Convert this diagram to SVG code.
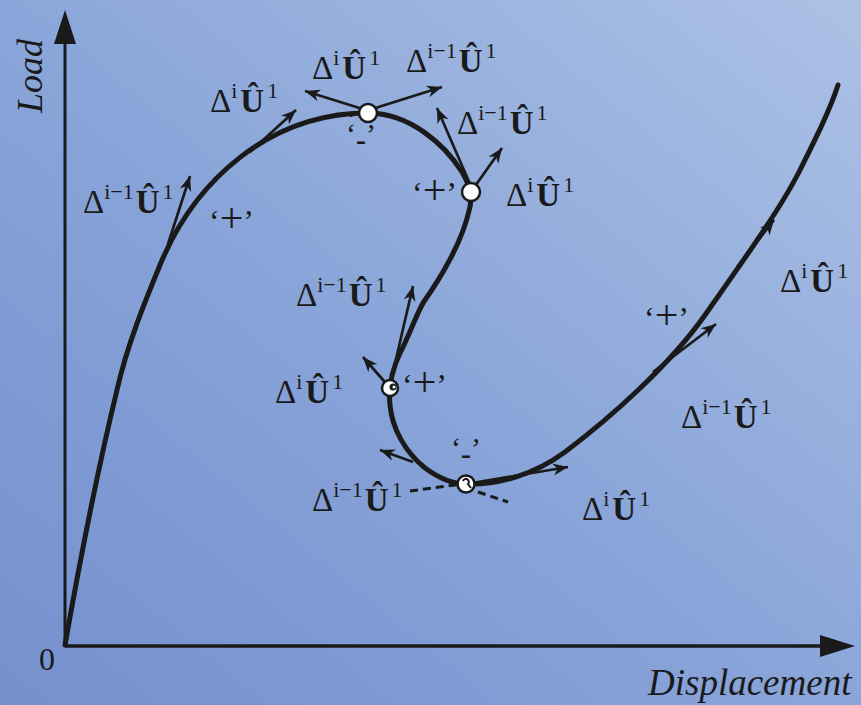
<svg xmlns="http://www.w3.org/2000/svg" width="861" height="705" viewBox="0 0 861 705">
<defs>
<linearGradient id="bg" x1="0" y1="1" x2="1" y2="0">
<stop offset="0" stop-color="#7590cd"/>
<stop offset="0.45" stop-color="#87a3d8"/>
<stop offset="1" stop-color="#acc1e5"/>
</linearGradient>
<marker id="ah" viewBox="-16 -7 18 14" markerWidth="18" markerHeight="14" refX="0" refY="0" orient="auto" markerUnits="userSpaceOnUse">
<path d="M0,0 L-15,-6 L-10.5,0 L-15,6 Z" fill="#1a1a1a"/>
</marker>
</defs>
<style>
.lbl{font-family:"Liberation Serif","Times New Roman",serif;font-size:33px;fill:#1a1a1a}
.sup{font-size:22px}
.b{font-weight:bold}
.sg{font-family:"Liberation Serif","Times New Roman",serif;font-size:32px;fill:#1a1a1a}
.pl{font-size:42px}
.ax{font-family:"Liberation Serif","Times New Roman",serif;font-style:italic;fill:#1a1a1a}
.arr{fill:none;stroke:#1a1a1a;stroke-width:2.7;marker-end:url(#ah)}
.dash{fill:none;stroke:#1a1a1a;stroke-width:3;stroke-dasharray:8 5}
.pt{fill:#fff;stroke:#1a1a1a;stroke-width:2.5}
</style>
<rect width="861" height="705" fill="url(#bg)"/>

<g id="axes">
<line x1="65" y1="645" x2="65" y2="40" stroke="#1a1a1a" stroke-width="3"/>
<polygon points="65,10 54,44 76,44" fill="#1a1a1a"/>
<line x1="65" y1="646" x2="824" y2="646" stroke="#1a1a1a" stroke-width="3.5"/>
<polygon points="855,646 820,635 820,657" fill="#1a1a1a"/>
<text class="ax" style="font-size:36px" transform="translate(42,113) rotate(-90)">Load</text>
<text class="lbl" x="39" y="670" style="font-size:32px">0</text>
<text class="ax" style="font-size:37px" x="648" y="695">Displacement</text>
</g>

<g id="connectors">
<path d="M65,645 C80,560 100,460 117,390 C127,345 146,299 160,265 C195,180 270,113 368,113 C410,113 445,145 462,172 C470,185 472,195 470,207 C466,225 458,245 448,263 C440,278 432,290 423,303 C415,318 408,338 400,353 C393,368 388,385 390,405 C392,428 405,452 425,468 C440,479 452,484 466,484 C500,485 535,474 565,452 C610,418 670,365 705,315 C740,265 780,210 800,170 C815,140 830,110 838,85" fill="none" stroke="#1a1a1a" stroke-width="5" stroke-linecap="round" stroke-linejoin="round"/>
<path class="arr" d="M168,244 L190,176"/>
<path class="arr" d="M250,152 L296,110"/>
<path class="arr" d="M385,116 L305,91"/>
<path class="arr" d="M350,116 L442,87"/>
<path class="arr" d="M470,184 L437,108"/>
<path class="arr" d="M473,189 L502,148"/>
<path class="arr" d="M390,385 L413,286"/>
<path class="arr" d="M390,388 L363,357"/>
<path class="arr" d="M413,462 L380,450"/>
<path class="arr" d="M472,483 L568,467"/>
<path class="arr" d="M737,267 L774,220"/>
<path class="arr" d="M653,372 L716,324"/>
<path class="dash" d="M410,491 L462,484"/>
<path class="dash" d="M478,492 L508,502"/>
</g>

<g id="node-peak"><circle class="pt" cx="368" cy="113" r="9"/></g>
<g id="node-turn1"><circle class="pt" cx="471" cy="192" r="9"/></g>
<g id="node-turn2"><circle class="pt" cx="390" cy="388" r="8"/><circle cx="393" cy="387" r="3.5" fill="#1a1a1a"/><circle cx="394" cy="387" r="1.5" fill="#fff"/></g>
<g id="node-valley"><circle class="pt" cx="466" cy="484" r="8.5"/><path d="M463,481 A3,3 0 1 1 468,484 L471,488" fill="none" stroke="#1a1a1a" stroke-width="2"/></g>

<g id="labels">
<text class="lbl" x="83" y="213">Δ<tspan class="sup" dy="-14">i−1</tspan><tspan class="b" dx="2" dy="14">Û</tspan><tspan class="sup" dx="3" dy="-14">1</tspan></text>
<text class="lbl" x="210" y="112">Δ<tspan class="sup" dy="-14">i</tspan><tspan class="b" dx="3" dy="14">Û</tspan><tspan class="sup" dx="3" dy="-14">1</tspan></text>
<text class="lbl" x="312" y="79">Δ<tspan class="sup" dy="-14">i</tspan><tspan class="b" dx="3" dy="14">Û</tspan><tspan class="sup" dx="3" dy="-14">1</tspan></text>
<text class="lbl" x="406" y="72">Δ<tspan class="sup" dy="-14">i−1</tspan><tspan class="b" dx="2" dy="14">Û</tspan><tspan class="sup" dx="3" dy="-14">1</tspan></text>
<text class="lbl" x="457" y="134">Δ<tspan class="sup" dy="-14">i−1</tspan><tspan class="b" dx="2" dy="14">Û</tspan><tspan class="sup" dx="3" dy="-14">1</tspan></text>
<text class="lbl" x="506" y="206">Δ<tspan class="sup" dy="-14">i</tspan><tspan class="b" dx="3" dy="14">Û</tspan><tspan class="sup" dx="3" dy="-14">1</tspan></text>
<text class="lbl" x="296" y="306">Δ<tspan class="sup" dy="-14">i−1</tspan><tspan class="b" dx="2" dy="14">Û</tspan><tspan class="sup" dx="3" dy="-14">1</tspan></text>
<text class="lbl" x="275" y="403">Δ<tspan class="sup" dy="-14">i</tspan><tspan class="b" dx="3" dy="14">Û</tspan><tspan class="sup" dx="3" dy="-14">1</tspan></text>
<text class="lbl" x="312" y="511">Δ<tspan class="sup" dy="-14">i−1</tspan><tspan class="b" dx="2" dy="14">Û</tspan><tspan class="sup" dx="3" dy="-14">1</tspan></text>
<text class="lbl" x="582" y="520">Δ<tspan class="sup" dy="-14">i</tspan><tspan class="b" dx="3" dy="14">Û</tspan><tspan class="sup" dx="3" dy="-14">1</tspan></text>
<text class="lbl" x="780" y="292">Δ<tspan class="sup" dy="-14">i</tspan><tspan class="b" dx="3" dy="14">Û</tspan><tspan class="sup" dx="3" dy="-14">1</tspan></text>
<text class="lbl" x="681" y="428">Δ<tspan class="sup" dy="-14">i−1</tspan><tspan class="b" dx="2" dy="14">Û</tspan><tspan class="sup" dx="3" dy="-14">1</tspan></text>

<text class="sg" x="209" y="232">‘<tspan class="pl">+</tspan>’</text>
<text class="sg" x="412" y="204">‘<tspan class="pl">+</tspan>’</text>
<text class="sg" x="402" y="396">‘<tspan class="pl">+</tspan>’</text>
<text class="sg" x="644" y="329">‘<tspan class="pl">+</tspan>’</text>
<text class="sg" x="346" y="144" style="font-size:30px">‘<tspan class="b" dy="6">-</tspan><tspan dy="-6">’</tspan></text>
<text class="sg" x="451" y="458" style="font-size:30px">‘<tspan class="b" dy="6">-</tspan><tspan dy="-6">’</tspan></text>
</g>
</svg>
